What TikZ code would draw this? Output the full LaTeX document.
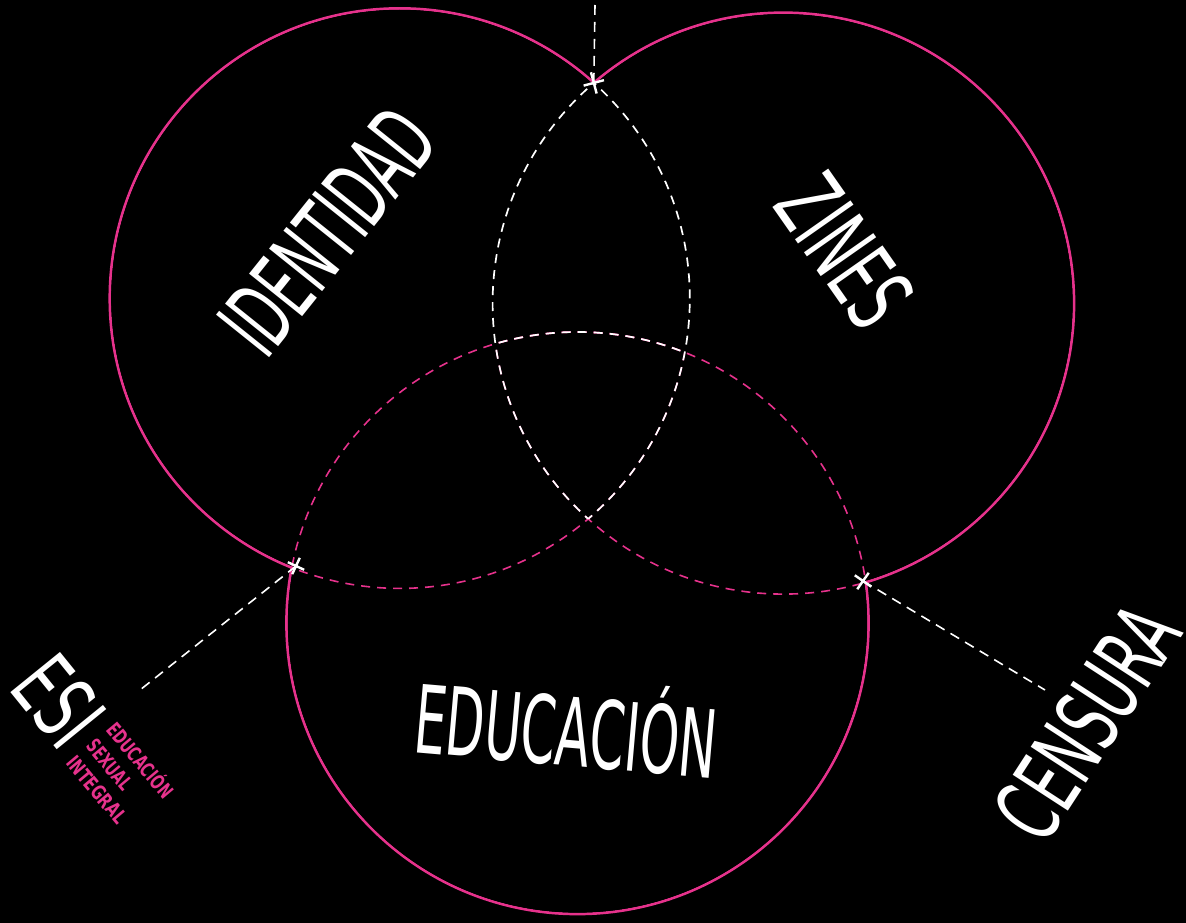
\documentclass[tikz,border=0pt]{standalone}
\usepackage{fontspec}
\setmainfont{DejaVu Sans}
\definecolor{esipink}{RGB}{230,50,140}
\begin{document}
\begin{tikzpicture}[x=1pt,y=-1pt,
  solidarc/.style={draw=esipink, line width=2.7pt},
  pinkdash/.style={draw=esipink, line width=1.6pt, dash pattern=on 9pt off 7pt},
  whitedash/.style={draw=white, line width=1.7pt, dash pattern=on 9pt off 7pt},
  linkline/.style={draw=white, line width=1.6pt, dash pattern=on 10pt off 7pt},
  crossmark/.style={draw=white, line width=2.4pt},
  bigword/.style={text=white, inner sep=0pt, font=\fontsize{20}{20}\selectfont},
  smallword/.style={text=esipink, inner sep=0pt, align=left, font=\fontsize{15}{26}\selectfont\bfseries},
]
\fill[black] (0,0) rectangle (1186,923);
\useasboundingbox (0,0) rectangle (1186,923);
\coordinate (cA) at (399.8,298.4);
\coordinate (cB) at (783.3,303.4);
\coordinate (cC) at (577.5,623);
% solid outer arcs
\draw[solidarc] (cA) circle[radius=290pt];
\draw[solidarc] (cB) circle[radius=290.7pt];
\draw[solidarc] (cC) circle[radius=291pt];
\fill[black] (cA) circle[radius=288.6pt];
\fill[black] (cB) circle[radius=289.3pt];
\fill[black] (cC) circle[radius=289.6pt];
% pink dashed arcs
\begin{scope}
  \clip (cC) circle[radius=291pt];
  \draw[pinkdash] (cA) circle[radius=290pt];
  \draw[pinkdash] (cB) circle[radius=290.7pt];
\end{scope}
\begin{scope}
  \clip (cA) circle[radius=290pt];
  \draw[pinkdash] (cC) circle[radius=291pt];
\end{scope}
\begin{scope}
  \clip (cB) circle[radius=290.7pt];
  \draw[pinkdash] (cC) circle[radius=291pt];
\end{scope}
% white dashed arcs
\begin{scope}
  \clip (cB) circle[radius=290.7pt];
  \draw[whitedash] (cA) circle[radius=290pt];
\end{scope}
\begin{scope}
  \clip (cA) circle[radius=290pt];
  \draw[whitedash] (cB) circle[radius=290.7pt];
  \clip (cB) circle[radius=290.7pt];
  \draw[whitedash] (cC) circle[radius=291pt];
\end{scope}
% intersection marks and links
\coordinate (xAB) at (593.8,82.9);
\coordinate (xAC) at (296,566);
\coordinate (xBC) at (863,581);
\coordinate (tTop) at (595,5);
\coordinate (tLeft) at (140,690);
\coordinate (tRight) at (1045,690);
\draw[linkline] (xAB) -- (tTop);
\draw[linkline] (xAC) -- (tLeft);
\draw[linkline] (xBC) -- (tRight);
\begin{scope}[shift={(xAB)}, rotate=15]
  \draw[crossmark] (-10.5,0) -- (10.5,0) (0,-11) -- (0,11);
\end{scope}
\begin{scope}[shift={(xAC)}, rotate=-25]
  \draw[crossmark] (-9,0) -- (9,0) (0,-9) -- (0,9);
\end{scope}
\begin{scope}[shift={(xBC)}, rotate=-35]
  \draw[crossmark] (-10,0) -- (10,0) (0,-10) -- (0,10);
\end{scope}
% words
\node[bigword, rotate=51.3] (identidad) at (327.3,231.4) {\resizebox{280pt}{68pt}{IDENTIDAD}};
\node[bigword, rotate=-55] (zines) at (845,251) {\resizebox{158pt}{69pt}{ZINES}};
\node[bigword, rotate=-5] (educacion) at (566,731) {\resizebox{303pt}{70pt}{EDUCACI\smash{Ó}N}};
\node[bigword, rotate=57] (censura) at (1087,722) {\resizebox{256pt}{67pt}{CENSURA}};
\node[bigword, rotate=-51] (esi) at (59,701) {\resizebox{84pt}{65pt}{ESI}};
\node[smallword, rotate=-50] (esifull) at (120,777) {\resizebox{91pt}{15pt}{EDUCACI\smash{Ó}N}\\\resizebox{59pt}{15pt}{SEXUAL}\\\resizebox{81pt}{15pt}{INTEGRAL}};
\end{tikzpicture}
\end{document}
